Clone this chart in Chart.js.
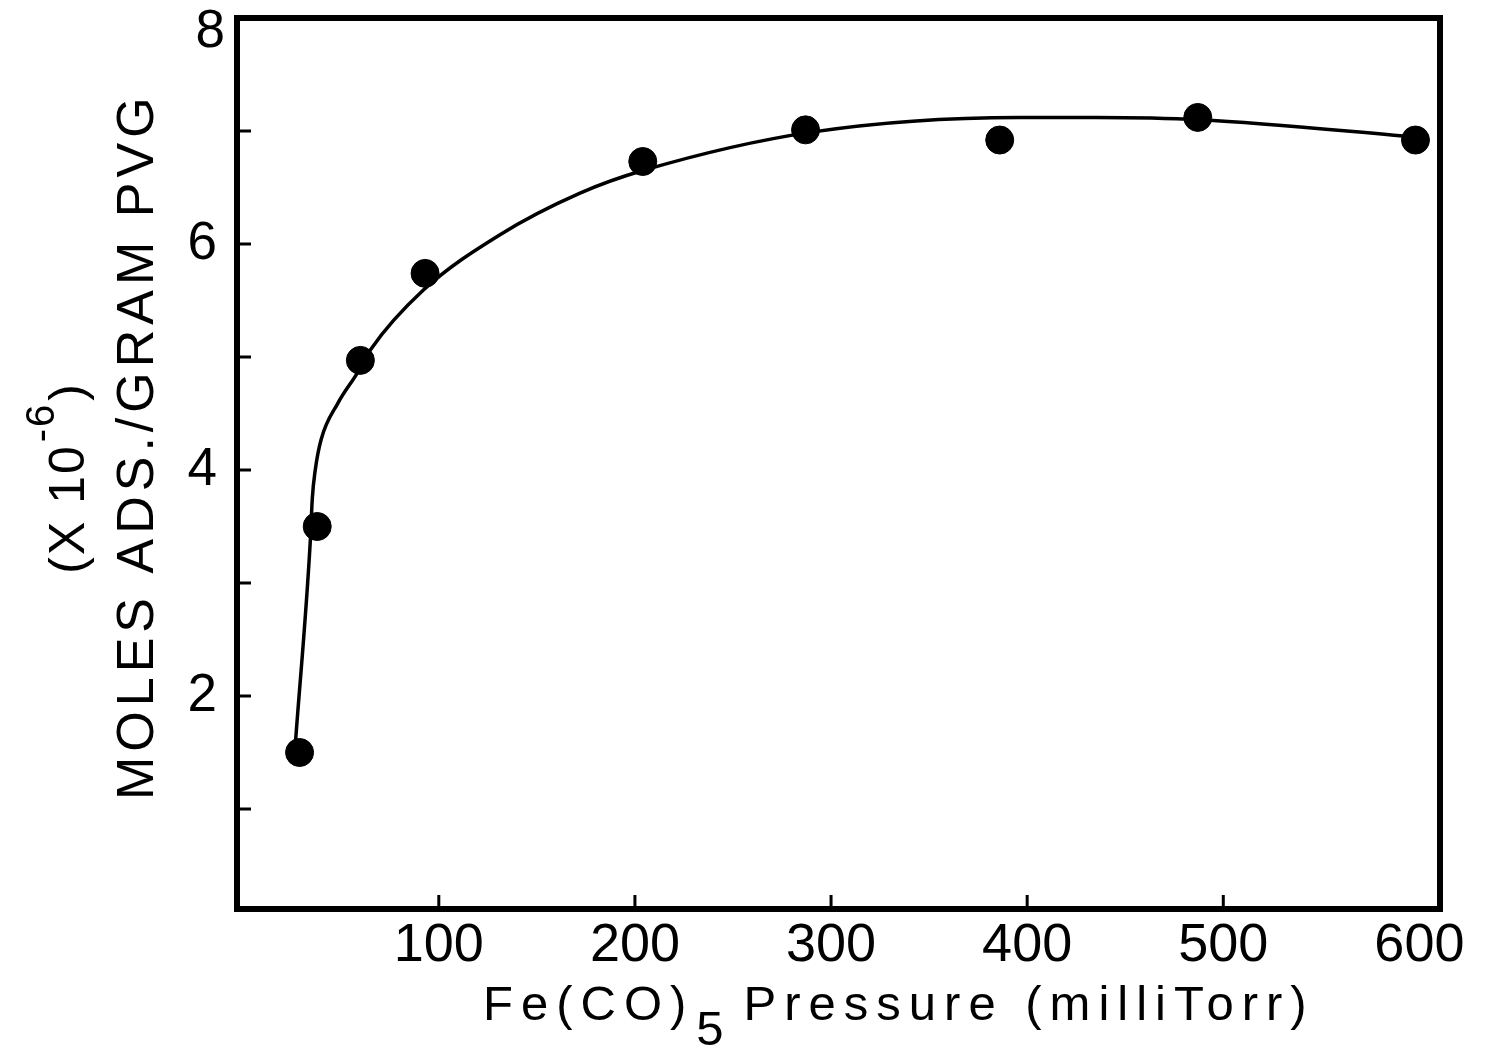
<!DOCTYPE html>
<html>
<head>
<meta charset="utf-8">
<script src="https://cdn.jsdelivr.net/npm/chart.js@4.4.1/dist/chart.umd.min.js"></script>
<style>
  html, body { margin: 0; padding: 0; background: #fff; }
  #wrap { width: 1486px; height: 1049px; }
</style>
</head>
<body>
<div id="wrap"><canvas id="myChart"></canvas></div>
<script>
// measured points (pressure in milliTorr, moles adsorbed x 1e-6 per gram PVG)
var pressure = [29, 38, 60, 93, 204, 287, 386, 487, 598];
var adsorbed = [1.50, 3.50, 4.97, 5.74, 6.73, 7.01, 6.92, 7.12, 6.92];

// hand drawn curve through the points
var curvePressure = [27, 34.5, 35.5, 37, 40, 48.5, 58.5, 65, 92, 131, 172, 204, 290, 396, 435, 488, 603];
var curveAdsorbed = [1.61, 3.38, 3.75, 4.0, 4.27, 4.59, 4.86, 5.06, 5.59, 6.08, 6.45, 6.65, 6.99, 7.12, 7.12, 7.10, 6.94];

var xTicks = [100, 200, 300, 400, 500, 600];
var yTicks = [1, 2, 3, 4, 5, 6, 7, 8];
var yLabelled = [2, 4, 6];
var yTopLabel = 8;

var font = '"Liberation Sans", Arial, sans-serif';

function pairs(xs, ys) {
  return xs.map(function (x, i) { return { x: x, y: ys[i] }; });
}

// frame, inward tick marks and the two axis titles
var decor = {
  id: 'decor',
  afterDraw: function (chart) {
    var ctx = chart.ctx;
    var a = chart.chartArea;
    var xs = chart.scales.x, ys = chart.scales.y;
    ctx.save();
    ctx.strokeStyle = '#000';
    ctx.fillStyle = '#000';

    ctx.lineWidth = 3;
    ctx.beginPath();
    yTicks.forEach(function (v) {
      if (v >= 8) return;
      var py = ys.getPixelForValue(v);
      ctx.moveTo(a.left, py); ctx.lineTo(a.left + 14, py);
    });
    xTicks.forEach(function (v) {
      if (v >= 600) return;
      var px = xs.getPixelForValue(v);
      ctx.moveTo(px, a.bottom); ctx.lineTo(px, a.bottom - 14);
    });
    ctx.stroke();

    ctx.lineWidth = 6;
    ctx.strokeRect(a.left, a.top, a.right - a.left, a.bottom - a.top);

    // top y label sits just below the corner
    ctx.font = '53px ' + font;
    ctx.textAlign = 'right';
    ctx.textBaseline = 'middle';
    ctx.fillText(String(yTopLabel), a.left - 12, ys.getPixelForValue(yTopLabel) + 14);

    // x title with subscript
    ctx.textAlign = 'left';
    ctx.textBaseline = 'alphabetic';
    ctx.font = '49px ' + font;
    ctx.letterSpacing = '8px';
    var x = 483, base = 1020;
    ctx.fillText('Fe(CO)', x, base);
    x += ctx.measureText('Fe(CO)').width;
    ctx.fillText('5', x + 2, base + 25);
    x += ctx.measureText('5').width + 14;
    ctx.fillText('Pressure (milliTorr)', x, base);

    // y title, two rotated lines
    ctx.font = '52px ' + font;
    ctx.letterSpacing = '5px';
    ctx.save();
    ctx.translate(153, 800);
    ctx.rotate(-Math.PI / 2);
    ctx.fillText('MOLES ADS./GRAM PVG', 0, 0);
    ctx.restore();

    var p1 = '(X 10', p2 = '-6', p3 = ')';
    ctx.letterSpacing = '2px';
    ctx.font = '50px ' + font;
    var w1 = ctx.measureText(p1).width, w3 = ctx.measureText(p3).width;
    ctx.font = '40px ' + font;
    var w2 = ctx.measureText(p2).width;
    var total = w1 + w2 + w3 + 4;
    ctx.save();
    ctx.translate(84, 382 + total);
    ctx.rotate(-Math.PI / 2);
    ctx.font = '50px ' + font;
    ctx.fillText(p1, 0, 0);
    ctx.font = '40px ' + font;
    ctx.fillText(p2, w1 + 2, -30);
    ctx.font = '50px ' + font;
    ctx.fillText(p3, w1 + w2 + 4, 0);
    ctx.restore();

    ctx.restore();
  }
};

var ctx = document.getElementById('myChart');
var myChart = new Chart(ctx, {
  type: 'scatter',
  data: {
    datasets: [{
      label: 'curve',
      data: pairs(curvePressure, curveAdsorbed),
      showLine: true,
      borderColor: '#000',
      borderWidth: 3.5,
      pointRadius: 0,
      cubicInterpolationMode: 'monotone'
    }, {
      label: 'measured',
      data: pairs(pressure, adsorbed),
      backgroundColor: '#000',
      borderColor: '#000',
      pointRadius: 14,
      pointHoverRadius: 14
    }]
  },
  options: {
    responsive: true,
    maintainAspectRatio: false,
    animation: false,
    events: [],
    layout: { padding: { top: 18, right: 46, left: 0, bottom: 0 } },
    plugins: { legend: { display: false }, tooltip: { enabled: false } },
    scales: {
      x: {
        type: 'linear',
        min: -2.9,
        max: 610.5,
        afterFit: function (s) { s.height = 140; s.paddingLeft = 0; s.paddingRight = 0; },
        afterBuildTicks: function (s) { s.ticks = xTicks.map(function (v) { return { value: v }; }); },
        grid: { display: false, drawTicks: false },
        border: { display: false },
        ticks: {
          color: '#000',
          padding: 5,
          maxRotation: 0,
          autoSkip: false,
          font: { family: font, size: 54 }
        }
      },
      y: {
        min: 0.115,
        max: 8,
        afterFit: function (s) { s.width = 237; s.paddingTop = 0; s.paddingBottom = 0; },
        afterBuildTicks: function (s) { s.ticks = yTicks.map(function (v) { return { value: v }; }); },
        grid: { display: false, drawTicks: false },
        border: { display: false },
        ticks: {
          color: '#000',
          padding: 20,
          autoSkip: false,
          font: { family: font, size: 53 },
          callback: function (v) { return yLabelled.indexOf(v) >= 0 ? String(v) : ''; }
        }
      }
    }
  },
  plugins: [decor]
});
</script>
</body>
</html>
